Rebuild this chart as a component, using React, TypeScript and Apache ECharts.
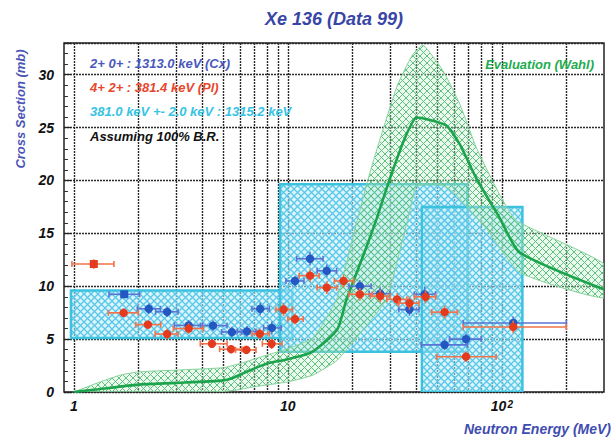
import React, { useEffect, useRef } from 'react';
import * as echarts from 'echarts';

// ---------- data ----------
const X_LABELS = [1, 10, 100];
const X_GRID = [1, 2, 3, 4, 5, 6, 7, 8, 9, 10, 20, 30, 40, 50, 60, 70, 80, 90, 100, 200];
const Y_LABELS = [0, 5, 10, 15, 20, 25, 30];

// cyan boxes: [E low, E high, sigma low, sigma high]
const BOXES = [
  [0.97, 10.5, 5.1, 9.6],
  [9.2, 69, 3.8, 19.65],
  [42.3, 124.7, 0, 17.5],
];

// evaluation (Wahl) central curve
const EVAL_E = [1, 1.3, 2, 3, 5, 5.6, 6.4, 8, 10, 13, 17, 18.8, 23.4, 26, 30, 35.2, 40, 44.6, 55, 63.7, 76, 98, 121, 300];
const EVAL_Y = [0, 0.26, 0.7, 0.86, 1.1, 1.37, 1.9, 2.7, 3.1, 3.8, 5.9, 8.75, 13.8, 16.4, 20.2, 24.0, 25.95, 25.8, 25.2, 23.4, 20.2, 16.4, 13.2, 9.7];

// evaluation band upper / lower edges
const UP_E = [1, 1.33, 1.65, 2, 3, 5, 6, 8, 10, 13.1, 16.9, 20, 24.3, 32.2, 38, 42.8, 53, 63.7, 76, 98, 117, 300];
const UP_Y = [0, 0.96, 1.6, 1.9, 2.07, 2.3, 2.7, 3.5, 4.1, 5.1, 8.75, 14.4, 20.9, 28.8, 31.8, 32.8, 30.4, 27.2, 23.1, 18.6, 16.2, 12.1];
const LO_E = [1, 4.5, 5.6, 7, 10, 13.1, 17, 22.5, 29, 33, 37, 40, 52, 60, 85, 121, 300];
const LO_Y = [0, 0, 0.15, 0.5, 0.96, 1.6, 3.0, 5.9, 8.8, 13.0, 17.0, 19.5, 19.6, 18.8, 15.4, 11.3, 8.9];

// points: [E, sigma, E low, E high, sigma error]
const BLUE_PTS = [
  [1.72, 9.24, 1.46, 2.03, 0.35],
  [2.24, 7.87, 1.98, 2.54, 0.5],
  [2.73, 7.58, 2.41, 3.07, 0.5],
  [3.44, 6.3, 2.95, 4.0, 0.5],
  [4.47, 6.28, 3.9, 5.2, 0.5],
  [5.48, 5.67, 4.9, 6.1, 0.5],
  [6.44, 5.73, 5.8, 7.1, 0.5],
  [7.43, 7.87, 6.8, 8.2, 0.6],
  [8.42, 6.06, 7.7, 9.3, 0.6],
  [10.8, 10.5, 9.8, 11.9, 0.5],
  [12.7, 12.6, 11.0, 14.6, 0.65],
  [15.2, 11.46, 13.7, 16.9, 0.6],
  [21.7, 10.0, 19.3, 24.5, 0.6],
  [27, 9.3, 24, 30, 0.6],
  [37, 7.8, 33, 41, 0.6],
  [43.6, 9.24, 39, 49, 0.7],
  [54, 4.46, 42, 69, 0.5],
  [68, 5.0, 57, 80, 0.5],
  [113, 6.53, 66, 200, 0.6],
];
const RED_PTS = [
  [1.24, 12.1, 0.98, 1.54, 0.45],
  [1.71, 7.49, 1.45, 2.0, 0.4],
  [2.22, 6.37, 1.95, 2.55, 0.4],
  [2.73, 5.48, 2.4, 3.07, 0.5],
  [3.44, 6.0, 2.92, 4.03, 0.5],
  [4.42, 4.56, 3.9, 5.2, 0.4],
  [5.43, 4.05, 4.8, 6.1, 0.4],
  [6.4, 3.98, 5.7, 7.1, 0.4],
  [7.4, 5.5, 6.8, 8.2, 0.5],
  [8.4, 4.56, 7.6, 9.4, 0.5],
  [9.55, 7.8, 8.8, 10.5, 0.6],
  [10.8, 6.9, 10.0, 11.8, 0.5],
  [12.7, 11.0, 11.3, 14.0, 0.6],
  [15.2, 9.87, 13.7, 16.9, 0.6],
  [18.2, 10.5, 16.5, 20.3, 0.6],
  [21.7, 9.24, 19.3, 24.8, 0.6],
  [27, 9.07, 24.3, 30, 0.6],
  [32.4, 8.76, 29, 36, 0.6],
  [37, 8.4, 33, 41, 0.6],
  [44, 9.0, 39, 49, 0.6],
  [54, 7.55, 47, 62, 0.6],
  [68, 3.34, 49.5, 94, 0.5],
  [113, 6.15, 66, 200, 0.6],
];

const LEGEND_TEXTS = [
  '2+ 0+ : 1313.0 keV (Cx)',
  '4+ 2+ : 381.4 keV (Pl)',
  '381.0 keV +- 2.0 keV : 1315.2 keV',
  'Assuming 100% B.R.',
];

// ---------- styling ----------
const FONT = '"Liberation Sans", Arial, Helvetica, sans-serif';
const LEGEND_COLORS = ['#4a58bd', '#e8472b', '#35c3e3', '#111111'];
const LEGEND_Y = [63, 87, 111, 136];

function hatch(bg: string, bgOpacity: number, line: string, w: number, s: number) {
  const svg =
    `<svg xmlns="http://www.w3.org/2000/svg" width="${s}" height="${s}">` +
    `<rect width="${s}" height="${s}" fill="${bg}" fill-opacity="${bgOpacity}"/>` +
    `<path d="M0,0L${s},${s}M${s},0L0,${s}" stroke="${line}" stroke-width="${w}" fill="none"/></svg>`;
  return {
    type: 'pattern',
    image: 'data:image/svg+xml;charset=utf-8,' + encodeURIComponent(svg),
    repeat: 'repeat',
    imageWidth: s,
    imageHeight: s,
  };
}

function pointSeries(name: string, pts: number[][], marker: string, bar: string, z: number) {
  return {
    type: 'custom',
    name,
    z,
    clip: true,
    data: pts,
    renderItem: (params: any, api: any) => {
      const E = api.value(0);
      const y = api.value(1);
      const lo = api.value(2);
      const hi = api.value(3);
      const err = api.value(4);
      const c = api.coord([E, y]);
      const l = api.coord([lo, y]);
      const h = api.coord([hi, y]);
      const t = api.coord([E, y + err]);
      const b = api.coord([E, y - err]);
      const barStyle = { stroke: bar, lineWidth: 1.6 };
      const children: any[] = [
        { type: 'line', shape: { x1: l[0], y1: l[1], x2: h[0], y2: h[1] }, style: barStyle },
        { type: 'line', shape: { x1: t[0], y1: t[1], x2: b[0], y2: b[1] }, style: barStyle },
        { type: 'line', shape: { x1: l[0], y1: l[1] - 3, x2: l[0], y2: l[1] + 3 }, style: barStyle },
        { type: 'line', shape: { x1: h[0], y1: h[1] - 3, x2: h[0], y2: h[1] + 3 }, style: barStyle },
      ];
      if (params.dataIndex === 0) {
        children.push({ type: 'rect', shape: { x: c[0] - 4, y: c[1] - 4, width: 8, height: 8 }, style: { fill: marker } });
      } else {
        children.push({ type: 'circle', shape: { cx: c[0], cy: c[1], r: 4.2 }, style: { fill: marker } });
      }
      return { type: 'group', children };
    },
  };
}

export default function App() {
  const ref = useRef<HTMLDivElement>(null);

  useEffect(() => {
    if (!ref.current) return;
    const chart = echarts.init(ref.current, null, { renderer: 'svg' });

    const cyanFill = hatch('#bfeaf7', 0.55, '#58c8e8', 1.3, 7);
    const greenFill = hatch('#c8ecd1', 0.35, '#5cc27c', 1.0, 7);

    const option: any = {
      animation: false,
      backgroundColor: '#ffffff',
      grid: {
        left: 64,
        right: 11,
        top: 43,
        bottom: 48,
        show: true,
        borderColor: '#222',
        borderWidth: 1.5,
        backgroundColor: 'transparent',
      },
      xAxis: {
        type: 'log',
        logBase: 10,
        min: 0.9,
        max: 300,
        axisLine: { show: false },
        axisTick: { show: false, customValues: X_GRID },
        axisLabel: {
          customValues: X_LABELS,
          margin: 7,
          formatter: (v: number) => {
            const r = Math.round(v);
            return r === 100 ? '{n|10}{s|2}' : '{n|' + r + '}';
          },
          rich: {
            n: { fontFamily: FONT, fontSize: 14, lineHeight: 14, fontWeight: 'bold', fontStyle: 'italic', color: '#111' },
            s: { fontFamily: FONT, fontSize: 10, lineHeight: 10, fontWeight: 'bold', fontStyle: 'italic', color: '#111', verticalAlign: 'top', padding: [0, 0, 12, 1] },
          },
        },
        splitLine: { show: true, lineStyle: { color: '#2a2a2a', width: 1.4, type: [2, 1] } },
      },
      yAxis: {
        type: 'value',
        min: 0,
        max: 33,
        interval: 5,
        axisLine: { show: false },
        axisTick: { show: true, inside: true, length: 7, lineStyle: { color: '#222', width: 1.2 } },
        minorTick: { show: true, splitNumber: 5, length: 4, lineStyle: { color: '#333', width: 1 } },
        axisLabel: {
          customValues: Y_LABELS,
          margin: 10,
          fontFamily: FONT,
          fontSize: 14,
          fontWeight: 'bold',
          fontStyle: 'italic',
          color: '#111',
        },
        splitLine: { show: true, lineStyle: { color: '#2a2a2a', width: 1.4, type: [2, 1] } },
      },
      series: [
        {
          type: 'custom',
          name: 'boxes',
          z: 2,
          clip: true,
          data: BOXES,
          renderItem: (params: any, api: any) => {
            const p1 = api.coord([api.value(0), api.value(3)]);
            const p2 = api.coord([api.value(1), api.value(2)]);
            return {
              type: 'rect',
              shape: { x: p1[0], y: p1[1], width: p2[0] - p1[0], height: p2[1] - p1[1] },
              style: { fill: cyanFill, stroke: '#3cc2df', lineWidth: 2.5 },
            };
          },
        },
        {
          type: 'custom',
          name: 'band',
          z: 3,
          clip: true,
          data: [[1, 0]],
          renderItem: (params: any, api: any) => {
            const pts: number[][] = [];
            UP_E.forEach((e, i) => pts.push(api.coord([e, UP_Y[i]])));
            for (let i = LO_E.length - 1; i >= 0; i--) pts.push(api.coord([LO_E[i], LO_Y[i]]));
            return {
              type: 'polygon',
              shape: { points: pts, smooth: 0.15 },
              style: { fill: greenFill, stroke: '#86d39b', lineWidth: 1 },
            };
          },
        },
        {
          type: 'line',
          name: 'Evaluation (Wahl)',
          z: 4,
          data: EVAL_E.map((e, i) => [e, EVAL_Y[i]]),
          showSymbol: false,
          smooth: 0.2,
          lineStyle: { color: '#1ba44b', width: 2.6 },
        },
        pointSeries('2+ 0+', BLUE_PTS, '#2357c2', '#5a74d6', 5),
        pointSeries('4+ 2+', RED_PTS, '#e43b1f', '#f27249', 6),
      ],
      graphic: [
        {
          type: 'text',
          x: 334,
          y: 19,
          style: {
            text: 'Xe 136 (Data 99)',
            font: `italic bold 18px ${FONT}`,
            fill: '#3845a6',
            textAlign: 'center',
            textVerticalAlign: 'middle',
          },
        },
        {
          type: 'text',
          x: 20,
          y: 109,
          rotation: Math.PI / 2,
          style: {
            text: 'Cross Section (mb)',
            font: `italic bold 13px ${FONT}`,
            fill: '#4a55b5',
            textAlign: 'center',
            textVerticalAlign: 'middle',
          },
        },
        {
          type: 'text',
          x: 611,
          y: 429,
          style: {
            text: 'Neutron Energy (MeV)',
            font: `italic bold 14px ${FONT}`,
            fill: '#3f4db0',
            textAlign: 'right',
            textVerticalAlign: 'middle',
          },
        },
        ...LEGEND_TEXTS.map((t, i) => ({
          type: 'text',
          x: 90,
          y: LEGEND_Y[i],
          z: 20,
          style: {
            text: t,
            font: `italic bold 13px ${FONT}`,
            fill: LEGEND_COLORS[i],
            textAlign: 'left',
            textVerticalAlign: 'middle',
          },
        })),
        {
          type: 'text',
          x: 594,
          y: 64,
          z: 20,
          style: {
            text: 'Evaluation (Wahl)',
            font: `italic bold 13px ${FONT}`,
            fill: '#22ac50',
            textAlign: 'right',
            textVerticalAlign: 'middle',
          },
        },
      ],
    };

    chart.setOption(option);
    return () => chart.dispose();
  }, []);

  return (
    <div
      ref={ref}
      style={{ position: 'fixed', left: 0, top: 0, width: 615, height: 440, background: '#fff' }}
    />
  );
}
